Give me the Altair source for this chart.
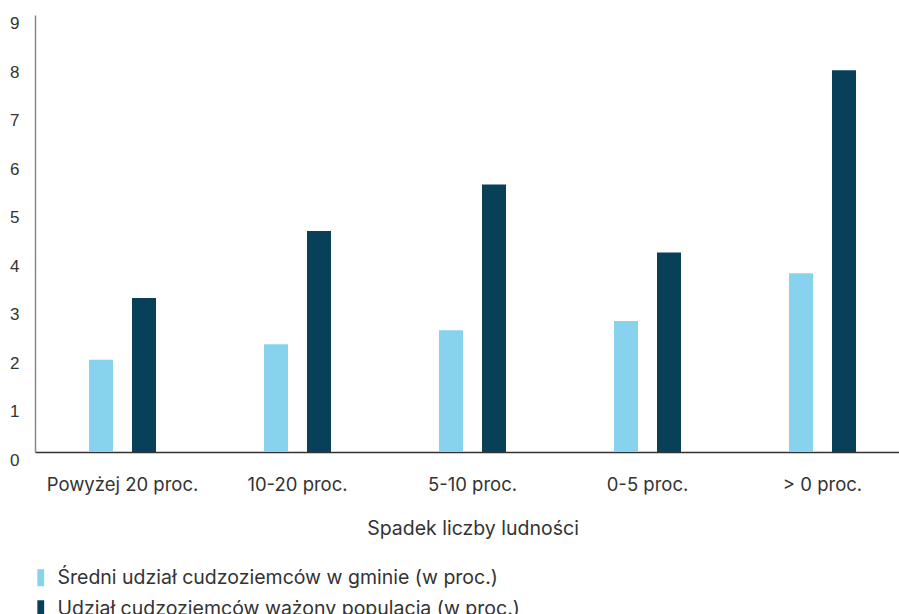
import altair as alt
import pandas as pd

# Population decline brackets (x axis categories)
categories = ["Powyżej 20 proc.", "10-20 proc.", "5-10 proc.", "0-5 proc.", "> 0 proc."]

# Series names as shown in the legend
series = [
    "Średni udział cudzoziemców w gminie (w proc.)",
    "Udział cudzoziemców ważony populacją (w proc.)",
]

# Values per category, in percent
mean_share = [1.9, 2.22, 2.51, 2.70, 3.68]
weighted_share = [3.17, 4.55, 5.51, 4.11, 7.86]

colors = ["#87D3EE", "#08405A"]

rows = []
for cat, a, b in zip(categories, mean_share, weighted_share):
    rows.append({"kategoria": cat, "seria": series[0], "wartosc": a})
    rows.append({"kategoria": cat, "seria": series[1], "wartosc": b})
df = pd.DataFrame(rows)

FONT = "Inter"
TEXT = "#333333"

chart = (
    alt.Chart(df)
    .mark_bar(width=24)
    .encode(
        x=alt.X(
            "kategoria:N",
            sort=categories,
            scale=alt.Scale(range=[0, 875], paddingInner=0, paddingOuter=0),
            axis=alt.Axis(
                title="Spadek liczby ludności",
                labelAngle=0,
                labelFont=FONT,
                labelFontSize=18.5,
                labelColor=TEXT,
                labelPadding=23,
                ticks=False,
                domainColor="#333333",
                domainWidth=1.5,
                titleFont=FONT,
                titleFontSize=19.5,
                titleFontWeight="normal",
                titleColor=TEXT,
                titlePadding=26,
            ),
        ),
        xOffset=alt.XOffset(
            "seria:N",
            sort=series,
            scale=alt.Scale(range=[44.5, 130.5], paddingInner=0, paddingOuter=0),
        ),
        y=alt.Y(
            "wartosc:Q",
            scale=alt.Scale(domain=[0, 9], nice=False),
            axis=alt.Axis(
                title=None,
                values=list(range(0, 10)),
                grid=False,
                ticks=False,
                labelFont="Liberation Sans",
                labelFontSize=17,
                labelColor=TEXT,
                labelPadding=16,
                labelOffset=8.5,
                domainColor="#888888",
                domainWidth=1.5,
            ),
        ),
        color=alt.Color(
            "seria:N",
            sort=series,
            scale=alt.Scale(domain=series, range=colors),
            legend=alt.Legend(
                title=None,
                orient="none",
                legendX=-4,
                legendY=553,
                direction="vertical",
                symbolType="M-0.4,-1L0.4,-1L0.4,1L-0.4,1Z",
                symbolSize=289,
                symbolStrokeWidth=0,
                labelFont=FONT,
                labelFontSize=19.5,
                labelColor=TEXT,
                labelOffset=7,
                labelLimit=0,
                rowPadding=10,
                padding=0,
            ),
        ),
    )
    .properties(
        width=864,
        height=437,
        autosize=alt.AutoSizeParams(type="none"),
        padding={"left": 35, "top": 15, "right": 0, "bottom": 162},
    )
    .configure(background="white")
    .configure_view(stroke=None, strokeWidth=0)
)

chart.save("out.html", embed_options={"renderer": "svg", "actions": False})
